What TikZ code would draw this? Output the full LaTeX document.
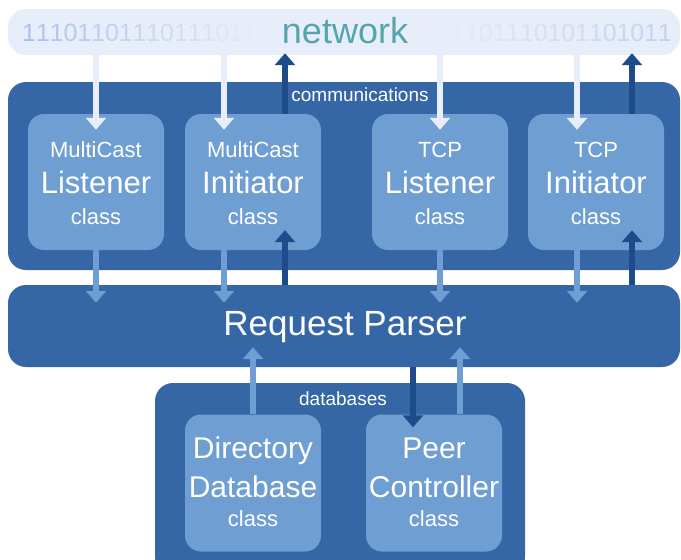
\documentclass[tikz,border=0pt]{standalone}
\usepackage{fontspec}
\setmainfont{Liberation Sans}
\usetikzlibrary{arrows.meta}

\definecolor{commblue}{HTML}{3566A6}
\definecolor{classblue}{HTML}{6E9ED2}
\definecolor{darkarrow}{HTML}{1E4C8B}
\definecolor{netband}{HTML}{E8EEF9}
\definecolor{netteal}{HTML}{55A5AE}
\definecolor{bitblue}{HTML}{8CA8E0}

\newcommand{\fs}[1]{\fontsize{#1}{#1}\selectfont}
% box of the communications layer: name, centre, first line, main line
\newcommand{\commbox}[4]{%
  \node[cls] (#1) at (#2) {};
  \node[txt,font=\fs{22}] (#1-a) at ([yshift=25pt]#1.center) {#3};
  \node[txt,font=\fs{31}] (#1-b) at ([yshift=-11pt]#1.center) {#4};
  \node[txt,font=\fs{22}] (#1-c) at ([yshift=-42pt]#1.center) {class};}
% box of the database layer
\newcommand{\dbbox}[4]{%
  \node[cls,minimum height=137pt] (#1) at (#2) {};
  \node[txt,font=\fs{30}] (#1-a) at ([yshift=25pt]#1.center) {#3};
  \node[txt,font=\fs{30}] (#1-b) at ([yshift=-14pt]#1.center) {#4};
  \node[txt,font=\fs{22}] (#1-c) at ([yshift=-43pt]#1.center) {class};}

\begin{document}
\begin{tikzpicture}[x=1pt,y=-1pt,
    panel/.style={fill=commblue,rounded corners=18pt,inner sep=0pt,minimum width=672pt},
    cls/.style={fill=classblue,rounded corners=16pt,inner sep=0pt,minimum width=136pt,minimum height=136pt},
    txt/.style={text=white,anchor=base,inner sep=0pt},
    bit/.style={anchor=base west,inner sep=0pt,font=\fs{25}},
    arr/.style={line width=5.5pt,-{Triangle[width=20pt,length=12pt]}}]
  \useasboundingbox (0,0) rectangle (681,560);

  % network
  \node[fill=netband,rounded corners=18pt,inner sep=0pt,minimum width=672pt,minimum height=46pt] (net) at (344,32) {};
  \foreach \b [count=\i] in {1,1,1,0,1,1,0,1,1,1,0,1,1,1,0,1,1,1}
    {\pgfmathsetmacro\p{68-3.7*\i}
     \node[bit,text=bitblue!\p!netband] (lb\i) at (22+13.8*\i-13.8,41) {\b};}
  \foreach \b [count=\i] in {1,1,1,0,1,1,1,0,1,0,1,1,0,1,0,1,1}
    {\pgfmathsetmacro\p{2.4*\i}
     \node[bit,text=bitblue!\p!netband] (rb\i) at (437+13.8*\i-13.8,41) {\b};}
  \node[txt,text=netteal,font=\fs{36}] (nettxt) at (345,43) {network};

  % layers
  \node[panel,minimum height=188pt] (comm) at (344,176) {};
  \node[txt,font=\fs{19}] (commtxt) at (360,101) {communications};
  \node[panel,minimum height=82pt] (parser) at (344,326) {};
  \node[txt,font=\fs{35}] (parsertxt) at (345,335) {Request Parser};
  \node[panel,minimum width=370pt,minimum height=192pt] (dbs) at (340,479) {};
  \node[txt,font=\fs{19}] (dbstxt) at (343,405) {databases};

  \commbox{ml}{96,182}{MultiCast}{Listener}
  \commbox{mi}{253,182}{MultiCast}{Initiator}
  \commbox{tl}{440,182}{TCP}{Listener}
  \commbox{ti}{596,182}{TCP}{Initiator}
  \dbbox{dd}{253,483}{Directory}{Database}
  \dbbox{pc}{434,483}{Peer}{Controller}

  % network <-> communications
  \draw[arr,netband] (ml.north |- net.south) -- ([yshift=-16pt]ml.north);
  \draw[arr,netband] ([xshift=-29pt]mi.north |- net.south) -- ([xshift=-29pt,yshift=-16pt]mi.north);
  \draw[arr,netband] (tl.north |- net.south) -- ([yshift=-16pt]tl.north);
  \draw[arr,netband] ([xshift=-19pt]ti.north |- net.south) -- ([xshift=-19pt,yshift=-16pt]ti.north);
  \draw[arr,darkarrow] ([xshift=32pt]mi.north) -- ([xshift=32pt,yshift=2pt]mi.north |- net.south);
  \draw[arr,darkarrow] ([xshift=36pt]ti.north) -- ([xshift=36pt,yshift=2pt]ti.north |- net.south);

  % communications <-> parser
  \draw[arr,classblue] (ml.south) -- ([yshift=-18pt]ml.south |- parser.north);
  \draw[arr,classblue] ([xshift=-29pt]mi.south) -- ([xshift=-29pt,yshift=-18pt]mi.south |- parser.north);
  \draw[arr,classblue] (tl.south) -- ([yshift=-18pt]tl.south |- parser.north);
  \draw[arr,classblue] ([xshift=-19pt]ti.south) -- ([xshift=-19pt,yshift=-18pt]ti.south |- parser.north);
  \draw[arr,darkarrow] ([xshift=32pt]mi.south |- parser.north) -- ([xshift=32pt,yshift=20pt]mi.south);
  \draw[arr,darkarrow] ([xshift=36pt]ti.south |- parser.north) -- ([xshift=36pt,yshift=20pt]ti.south);

  % parser <-> databases
  \draw[arr,classblue] (dd.north) -- ([yshift=20pt]dd.north |- parser.south);
  \draw[arr,classblue] ([xshift=26pt]pc.north) -- ([xshift=26pt,yshift=20pt]pc.north |- parser.south);
  \draw[arr,darkarrow] ([xshift=-21pt]pc.north |- parser.south) -- ([xshift=-21pt,yshift=-13pt]pc.north);
\end{tikzpicture}
\end{document}
